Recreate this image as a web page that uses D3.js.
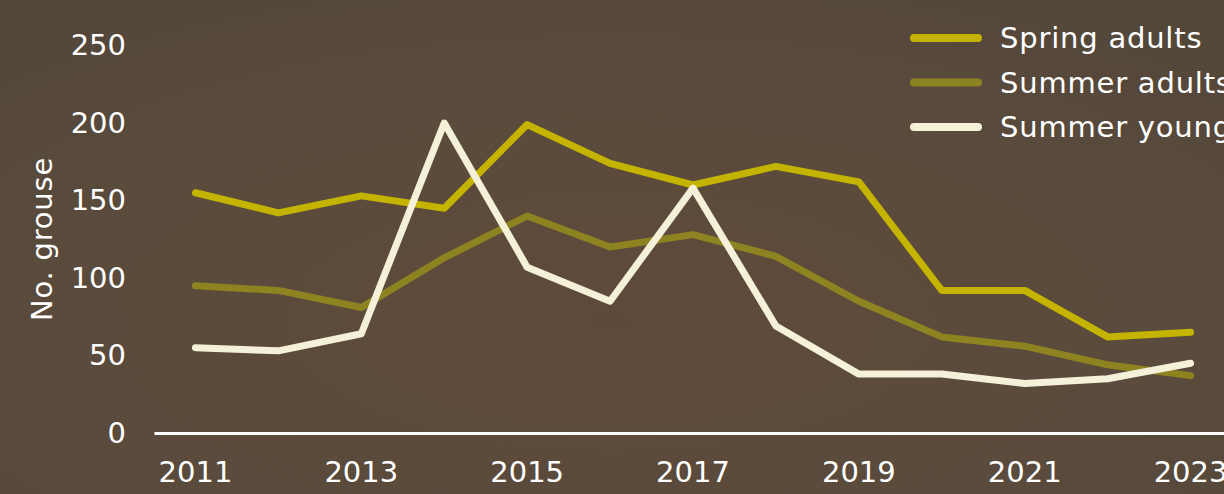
<!DOCTYPE html>
<html>
<head>
<meta charset="utf-8">
<script src="https://cdn.jsdelivr.net/npm/d3@7"></script>
<style>
  html, body { margin: 0; padding: 0; }
  body { width: 1224px; height: 494px; overflow: hidden; }
  svg { display: block; font-family: 'DejaVu Sans', Verdana, sans-serif; }
</style>
</head>
<body>
<svg width="1224" height="494"></svg>
<script>
let years = [2011, 2012, 2013, 2014, 2015, 2016, 2017, 2018, 2019, 2020, 2021, 2022, 2023];
let springAdults = [155, 142, 153, 145, 199, 174, 160, 172, 162, 92, 92, 62, 65];
let summerAdults = [95, 92, 81, 113, 140, 120, 128, 114, 85, 62, 56, 44, 37];
let summerYoung = [55, 53, 64, 200, 107, 85, 158, 69, 38, 38, 32, 35, 45];
let seriesNames = ['Spring adults', 'Summer adults', 'Summer young'];
let seriesColors = ['#c4b400', '#8d8320', '#f5f0d8'];
let yTicks = [0, 50, 100, 150, 200, 250];
let xTickYears = [2011, 2013, 2015, 2017, 2019, 2021, 2023];

let svg = d3.select('svg');

// background
let defs = svg.append('defs');
let grad = defs.append('radialGradient')
  .attr('id', 'bg')
  .attr('cx', '50%').attr('cy', '65%').attr('r', '75%');
grad.append('stop').attr('offset', '0%').attr('stop-color', '#5f4a3a');
grad.append('stop').attr('offset', '60%').attr('stop-color', '#5a4b3c');
grad.append('stop').attr('offset', '100%').attr('stop-color', '#53473a');
svg.append('rect')
  .attr('width', 1224).attr('height', 494)
  .attr('fill', 'url(#bg)');

let x = d3.scaleBand().domain(years).range([154, 1232]);
let y = d3.scaleLinear().domain([0, 250]).range([433, 45.5]);

let series = [springAdults, summerAdults, summerYoung].map(function(vals, i) {
  return { name: seriesNames[i], color: seriesColors[i], values: vals };
});

// y axis (labels only)
let yAxis = d3.axisLeft(y).tickValues(yTicks).tickSize(0).tickPadding(0);
svg.append('g')
  .attr('transform', 'translate(126,0)')
  .call(yAxis)
  .call(function(g) {
    g.select('.domain').remove();
    g.selectAll('text')
      .attr('fill', '#fff')
      .style('font-size', '29px')
      .style('font-family', "'DejaVu Sans', Verdana, sans-serif");
  });

// x axis
let xAxis = d3.axisBottom(x).tickValues(xTickYears).tickSize(0).tickPadding(28);
svg.append('g')
  .attr('transform', 'translate(0,433)')
  .call(xAxis)
  .call(function(g) {
    g.select('.domain').attr('stroke', '#fff').attr('stroke-width', 3);
    g.selectAll('text')
      .attr('fill', '#fff')
      .style('font-size', '29px')
      .style('font-family', "'DejaVu Sans', Verdana, sans-serif");
  });

// y title
svg.append('text')
  .attr('transform', 'translate(52,239) rotate(-90)')
  .attr('text-anchor', 'middle')
  .attr('fill', '#fff')
  .style('font-size', '29px')
  .style('letter-spacing', '0.8px')
  .text('No. grouse');

// lines
let line = d3.line()
  .x(function(d, i) { return x(years[i]) + x.bandwidth() / 2; })
  .y(function(d) { return y(d); });

svg.append('g')
  .selectAll('path')
  .data(series)
  .join('path')
  .attr('d', function(d) { return line(d.values); })
  .attr('fill', 'none')
  .attr('stroke', function(d) { return d.color; })
  .attr('stroke-width', 7)
  .attr('stroke-linecap', 'round')
  .attr('stroke-linejoin', 'round');

// legend
let legend = svg.append('g')
  .selectAll('g')
  .data(series)
  .join('g')
  .attr('transform', function(d, i) { return 'translate(910,' + (38 + i * 44.5) + ')'; });

legend.append('line')
  .attr('x1', 4).attr('x2', 68)
  .attr('stroke', function(d) { return d.color; })
  .attr('stroke-width', 8)
  .attr('stroke-linecap', 'round');

legend.append('text')
  .attr('x', 90)
  .attr('dy', '0.35em')
  .attr('fill', '#fff')
  .style('font-size', '29px')
  .style('letter-spacing', '0.8px')
  .text(function(d) { return d.name; });
</script>
</body>
</html>
